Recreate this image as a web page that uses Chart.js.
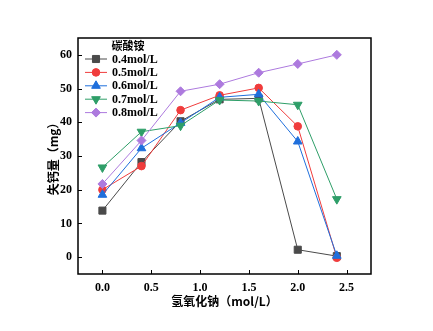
<!DOCTYPE html>
<html lang="zh">
<head>
<meta charset="UTF-8">
<title>失钙量</title>
<script src="https://cdn.jsdelivr.net/npm/chart.js"></script>
<style>
    body {
        margin: 0;
        background: #ffffff;
    }
    #wrap {
        width: 433px;
        height: 331px;
    }
</style>
</head>
<body>
<div id="wrap">
    <canvas id="lossChart" width="433" height="331"></canvas>
</div>
<script>
    // 氢氧化钠浓度 (mol/L)
    const naohConc = [0, 0.4, 0.8, 1.2, 1.6, 2.0, 2.4];

    // 失钙量 (mg)，按碳酸铵浓度分组
    const loss04 = [13.8, 28.2, 40.3, 46.8, 47.1, 2.2, 0.3];
    const loss05 = [20.0, 27.0, 43.6, 48.0, 50.2, 38.8, -0.2];
    const loss06 = [18.5, 32.3, 39.8, 47.4, 48.3, 34.3, 0.4];
    const loss07 = [26.6, 37.2, 39.0, 46.6, 46.3, 45.2, 17.2];
    const loss08 = [21.7, 34.6, 49.2, 51.3, 54.7, 57.3, 60.0];

    const seriesLabels = ['0.4mol/L', '0.5mol/L', '0.6mol/L', '0.7mol/L', '0.8mol/L'];
    const legendTitle = '碳酸铵';

    const xTicks = [0, 0.5, 1.0, 1.5, 2.0, 2.5];
    const yTicks = [0, 10, 20, 30, 40, 50, 60];

    const numFont = { family: '"Liberation Serif", "Times New Roman", serif', size: 12, weight: 'bold' };
    const cjkFont = '"Noto Sans CJK SC", sans-serif';

    const styles = [
        { color: '#4a4a4a', pointStyle: 'rect', radius: 5, rotation: 0 },
        { color: '#f03c3c', pointStyle: 'circle', radius: 3.8, rotation: 0 },
        { color: '#1f6fdc', pointStyle: 'triangle', radius: 5, rotation: 0 },
        { color: '#2e9e68', pointStyle: 'triangle', radius: 5, rotation: 180 },
        { color: '#ad7ade', pointStyle: 'rectRot', radius: 4.5, rotation: 0 }
    ];

    const allSeries = [loss04, loss05, loss06, loss07, loss08];

    const datasets = allSeries.map((vals, i) => ({
        label: seriesLabels[i],
        data: vals.map((v, j) => ({ x: naohConc[j], y: v })),
        borderColor: styles[i].color,
        backgroundColor: styles[i].color,
        borderWidth: 1,
        pointStyle: styles[i].pointStyle,
        pointRadius: styles[i].radius,
        pointRotation: styles[i].rotation,
        pointBorderWidth: 1,
        pointBorderColor: styles[i].color,
        pointBackgroundColor: styles[i].color,
        tension: 0,
        order: allSeries.length - 1 - i
    }));

    // frame, inward tick marks and the legend box
    const decorations = {
        id: 'decorations',
        afterDraw(chart) {
            const ctx = chart.ctx;
            const area = chart.chartArea;
            const xs = chart.scales.x;
            const ys = chart.scales.y;
            ctx.save();

            ctx.strokeStyle = '#000';
            ctx.lineWidth = 1;
            ctx.beginPath();
            xs.ticks.forEach(t => {
                const px = Math.round(xs.getPixelForValue(t.value)) + 0.5;
                ctx.moveTo(px, area.bottom);
                ctx.lineTo(px, area.bottom - 4);
            });
            ys.ticks.forEach(t => {
                const py = Math.round(ys.getPixelForValue(t.value)) + 0.5;
                ctx.moveTo(area.left, py);
                ctx.lineTo(area.left + 4, py);
            });
            ctx.stroke();

            ctx.lineWidth = 1.5;
            ctx.strokeRect(area.left, area.top, area.right - area.left, area.bottom - area.top);

            // legend
            const lx = area.left + 7;
            const ly = area.top + 21;
            const step = 13.4;
            ctx.fillStyle = '#000';
            ctx.font = 'bold 11px ' + cjkFont;
            ctx.textAlign = 'center';
            ctx.textBaseline = 'middle';
            ctx.fillText(legendTitle, area.left + 50, area.top + 8);

            chart.data.datasets.forEach((ds, i) => {
                const y = ly + i * step;
                ctx.strokeStyle = ds.borderColor;
                ctx.lineWidth = 1;
                ctx.beginPath();
                ctx.moveTo(lx, y);
                ctx.lineTo(lx + 22, y);
                ctx.stroke();
                ctx.fillStyle = ds.backgroundColor;
                Chart.helpers.drawPoint(ctx, {
                    pointStyle: ds.pointStyle,
                    radius: ds.pointRadius,
                    rotation: ds.pointRotation,
                    borderWidth: 1
                }, lx + 11, y);
                ctx.fillStyle = '#000';
                ctx.font = 'bold 12px ' + numFont.family;
                ctx.textAlign = 'left';
                ctx.fillText(ds.label, lx + 27, y + 0.5);
            });
            ctx.restore();
        }
    };

    new Chart(document.getElementById('lossChart'), {
        type: 'line',
        data: { datasets: datasets },
        options: {
            responsive: false,
            animation: false,
            layout: { padding: { top: 38, right: 62, left: 0, bottom: 0 } },
            plugins: {
                legend: { display: false },
                tooltip: { enabled: false }
            },
            scales: {
                x: {
                    type: 'linear',
                    min: -0.25,
                    max: 2.75,
                    afterBuildTicks: s => { s.ticks = xTicks.map(v => ({ value: v })); },
                    afterFit: s => { s.height = 57; },
                    grid: { display: false, drawTicks: false },
                    border: { display: false },
                    ticks: {
                        color: '#000',
                        font: numFont,
                        padding: 7,
                        callback: v => v.toFixed(1)
                    },
                    title: {
                        display: true,
                        text: '氢氧化钠（mol/L）',
                        color: '#000',
                        font: { family: cjkFont, size: 12, weight: 'bold' },
                        padding: { top: 0, bottom: 22 }
                    }
                },
                y: {
                    min: -5,
                    max: 65,
                    afterBuildTicks: s => { s.ticks = yTicks.map(v => ({ value: v })); },
                    afterFit: s => { s.width = 78; },
                    grid: { display: false, drawTicks: false },
                    border: { display: false },
                    ticks: {
                        color: '#000',
                        font: numFont,
                        padding: 6
                    },
                    title: {
                        display: true,
                        text: '失钙量（mg）',
                        color: '#000',
                        font: { family: cjkFont, size: 12, weight: 'bold' },
                        padding: { top: 46, bottom: 0 }
                    }
                }
            }
        },
        plugins: [decorations]
    });
</script>
</body>
</html>
